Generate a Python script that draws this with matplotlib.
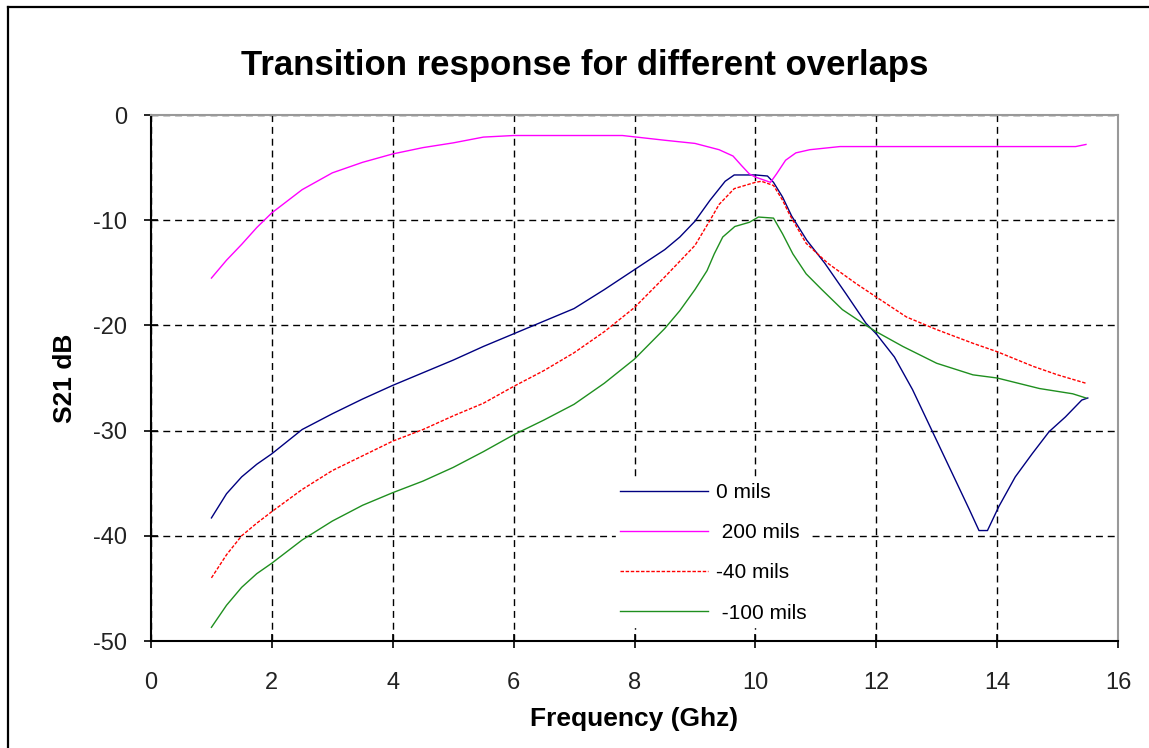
import matplotlib
matplotlib.use('Agg')
import matplotlib.pyplot as plt
from matplotlib.lines import Line2D

plt.rcParams['font.family'] = ['Liberation Sans', 'DejaVu Sans']
plt.rcParams['axes.unicode_minus'] = False

# 0 mils
f_0 = [1.0, 1.25, 1.5, 1.75, 2.0, 2.5, 3.0, 3.5, 4.0, 4.5, 5.0, 5.5, 6.0, 6.5, 7.0, 7.5, 8.0,
       8.5, 8.75, 9.0, 9.25, 9.5, 9.65, 10.0, 10.2, 10.3, 10.45, 10.6, 10.85, 11.15, 11.5,
       11.83, 12.0, 12.3, 12.6, 12.93, 13.26, 13.54, 13.7, 13.84, 14.03, 14.3, 14.58, 14.86,
       15.13, 15.4, 15.5]
s_0 = [-38.3, -36.0, -34.4, -33.2, -32.2, -29.9, -28.4, -27.0, -25.7, -24.5, -23.3, -22.0,
       -20.8, -19.6, -18.4, -16.6, -14.7, -12.8, -11.6, -10.1, -8.1, -6.3, -5.7, -5.7, -5.8,
       -6.4, -7.8, -9.6, -11.9, -14.1, -17.0, -19.8, -20.8, -23.0, -26.1, -30.1, -34.1, -37.5,
       -39.5, -39.5, -37.2, -34.4, -32.2, -30.1, -28.7, -27.1, -26.9]

# 200 mils
f_200 = [1.0, 1.25, 1.5, 1.75, 2.0, 2.5, 3.0, 3.5, 4.0, 4.5, 5.0, 5.5, 6.0, 7.0, 7.8, 8.5,
         9.0, 9.4, 9.63, 9.77, 9.9, 10.0, 10.25, 10.35, 10.5, 10.67, 10.9, 11.4, 15.3, 15.47]
s_200 = [-15.5, -13.8, -12.3, -10.7, -9.3, -7.1, -5.5, -4.5, -3.7, -3.1, -2.65, -2.1, -1.95,
         -1.95, -1.95, -2.4, -2.7, -3.3, -3.9, -4.8, -5.6, -5.9, -6.4, -5.6, -4.3, -3.6, -3.3,
         -3.0, -3.0, -2.8]

# -40 mils
f_m40 = [1.0, 1.25, 1.5, 1.75, 2.0, 2.5, 3.0, 3.5, 4.0, 4.5, 5.0, 5.5, 6.0, 6.5, 7.0, 7.5,
         8.0, 8.5, 9.0, 9.25, 9.4, 9.65, 10.0, 10.1, 10.3, 10.45, 10.56, 10.84, 11.2, 11.66,
         12.0, 12.5, 13.0, 13.6, 14.0, 14.6, 15.0, 15.47]
s_m40 = [-44.0, -41.8, -40.0, -38.8, -37.7, -35.6, -33.8, -32.4, -31.0, -29.9, -28.6, -27.4,
         -25.8, -24.3, -22.6, -20.6, -18.3, -15.4, -12.4, -10.0, -8.5, -7.0, -6.4, -6.3, -6.7,
         -8.1, -9.4, -12.2, -14.1, -16.0, -17.3, -19.2, -20.4, -21.7, -22.5, -23.9, -24.7, -25.5]

# -100 mils
f_m100 = [1.0, 1.25, 1.5, 1.75, 2.0, 2.5, 3.0, 3.5, 4.0, 4.5, 5.0, 5.5, 6.0, 6.5, 7.0, 7.5,
          8.0, 8.5, 8.75, 9.0, 9.2, 9.32, 9.46, 9.66, 9.9, 10.05, 10.3, 10.45, 10.62, 10.84,
          11.1, 11.44, 11.83, 12.0, 12.44, 13.0, 13.6, 14.0, 14.7, 15.25, 15.47]
s_m100 = [-48.7, -46.6, -44.9, -43.6, -42.6, -40.4, -38.6, -37.1, -35.9, -34.8, -33.5, -32.0,
          -30.4, -29.0, -27.5, -25.5, -23.2, -20.3, -18.6, -16.6, -14.8, -13.2, -11.6, -10.6,
          -10.2, -9.7, -9.8, -11.3, -13.2, -15.1, -16.6, -18.5, -20.0, -20.6, -22.0, -23.6,
          -24.7, -25.0, -26.0, -26.5, -26.9]

fig = plt.figure(figsize=(11.49, 7.48), dpi=100)
W, H = 1149, 748
ax = fig.add_axes([151 / W, 1 - 641 / H, (1118 - 151) / W, (641 - 115) / H])

ax.plot(f_0, s_0, color='#000080', lw=1.0, label='0 mils')
ax.plot(f_200, s_200, color='#ff00ff', lw=1.0, label=' 200 mils')
ax.plot(f_m40, s_m40, color='#ff0000', lw=1.0, ls=(0, (2.5, 1.2)), label='-40 mils')
ax.plot(f_m100, s_m100, color='#1f8f1f', lw=1.0, label=' -100 mils')

ax.set_xlim(0, 16)
ax.set_ylim(-50, 0)
ax.set_xticks(range(0, 17, 2))
ax.set_yticks(range(-50, 1, 10))
ax.grid(True, color='black', ls=(0, (5, 3.5)), lw=1.0)
ax.tick_params(direction='inout', length=10, width=1.2, labelsize=17,
               labelcolor='#222222')
ax.tick_params(axis='x', pad=17)
ax.tick_params(axis='y', pad=12)
for s in ['left', 'bottom']:
    ax.spines[s].set_linewidth(1.5)
for s in ['top', 'right']:
    ax.spines[s].set_color('#999999')
    ax.spines[s].set_linewidth(1.5)

ax.set_xlabel('Frequency (Ghz)', fontsize=19, fontweight='bold', labelpad=10)
ax.set_ylabel('S21 dB', fontsize=19, fontweight='bold', labelpad=12)

fig.text(585 / W, 1 - 66 / H, 'Transition response for different overlaps',
         ha='center', va='center', fontsize=25, fontweight='bold')

leg = ax.legend(loc='upper left', bbox_to_anchor=(0.471, 0.327), frameon=True,
                fontsize=15, handlelength=4.2, labelspacing=1.02, handletextpad=0.37,
                borderpad=0.2, borderaxespad=0.47, fancybox=False)
leg.get_frame().set_edgecolor('white')
leg.get_frame().set_facecolor('white')
leg.get_frame().set_alpha(1)

# outer chart border
fig.add_artist(Line2D([8 / W, 1.05], [1 - 7 / H, 1 - 7 / H], color='black', lw=1.6))
fig.add_artist(Line2D([8 / W, 8 / W], [1 - 7 / H, -0.05], color='black', lw=1.6))

fig.savefig('out.png', dpi=100, facecolor='white')
